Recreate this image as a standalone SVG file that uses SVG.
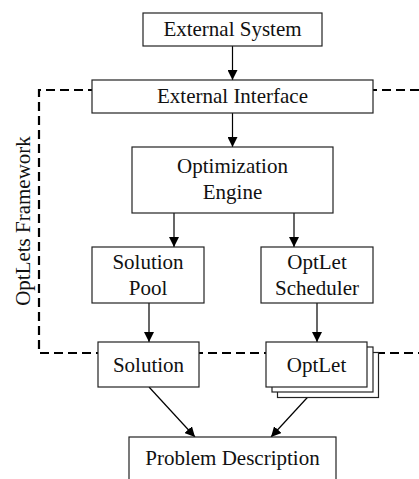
<svg xmlns="http://www.w3.org/2000/svg" width="419" height="479" viewBox="0 0 419 479" font-family="'Liberation Serif', 'Times New Roman', Times, serif">
  <defs>
    <marker id="arrow" viewBox="0 0 10 10" refX="10" refY="5" markerWidth="10" markerHeight="10" markerUnits="userSpaceOnUse" orient="auto">
      <path d="M0,0 L10,5 L0,10 Z" fill="#000"/>
    </marker>
    <style>
      .box { fill: #fff; stroke: #222; stroke-width: 1.2; }
      .lbl { font-family: 'Liberation Serif', 'Times New Roman', Times, serif; font-size: 21px; fill: #111; text-anchor: middle; }
      .edge { stroke: #000; stroke-width: 1.2; fill: none; marker-end: url(#arrow); }
      .frame { stroke: #000; stroke-width: 2.2; fill: none; stroke-dasharray: 9 5; }
    </style>
  </defs>

  <!-- framework boundary -->
  <g id="framework">
    <path class="frame" d="M419,90 H39 V353 H419"/>
    <text class="lbl" transform="translate(29.5,221) rotate(-90)">OptLets Framework</text>
  </g>

  <!-- connectors -->
  <g id="connectors">
    <line class="edge" x1="232.5" y1="46" x2="232.5" y2="80"/>
    <line class="edge" x1="232.5" y1="113" x2="232.5" y2="147"/>
    <line class="edge" x1="174" y1="213" x2="174" y2="247"/>
    <line class="edge" x1="294" y1="213" x2="294" y2="247"/>
    <line class="edge" x1="149" y1="303" x2="149" y2="342"/>
    <line class="edge" x1="317" y1="303" x2="317" y2="342"/>
    <line class="edge" x1="149" y1="387" x2="195" y2="437"/>
    <line class="edge" x1="317" y1="387" x2="271" y2="437"/>
  </g>

  <g id="external-system">
    <rect class="box" x="143" y="13" width="179" height="33"/>
    <text class="lbl" x="232.5" y="36">External System</text>
  </g>

  <g id="external-interface">
    <rect class="box" x="92" y="80" width="281" height="33"/>
    <text class="lbl" x="232.5" y="103">External Interface</text>
  </g>

  <g id="optimization-engine">
    <rect class="box" x="132" y="147" width="201" height="66"/>
    <text class="lbl" x="232.5" y="173">Optimization</text>
    <text class="lbl" x="232.5" y="199">Engine</text>
  </g>

  <g id="solution-pool">
    <rect class="box" x="92" y="247" width="112" height="56"/>
    <text class="lbl" x="148" y="269">Solution</text>
    <text class="lbl" x="148" y="295">Pool</text>
  </g>

  <g id="optlet-scheduler">
    <rect class="box" x="261" y="247" width="112" height="56"/>
    <text class="lbl" x="317" y="269">OptLet</text>
    <text class="lbl" x="317" y="295">Scheduler</text>
  </g>

  <g id="solution">
    <rect class="box" x="98" y="342" width="101" height="45"/>
    <text class="lbl" x="148.5" y="372">Solution</text>
  </g>

  <g id="optlet">
    <rect class="box" x="277.5" y="352.5" width="101" height="45"/>
    <rect class="box" x="272" y="347" width="101" height="45"/>
    <rect class="box" x="266" y="342" width="101" height="45"/>
    <text class="lbl" x="316.5" y="372">OptLet</text>
  </g>

  <g id="problem-description">
    <rect class="box" x="129" y="437" width="207" height="50"/>
    <text class="lbl" x="232.5" y="465">Problem Description</text>
  </g>
</svg>
